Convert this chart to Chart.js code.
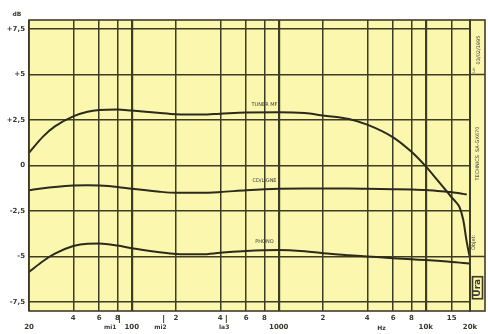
<!DOCTYPE html>
<html>
<head>
<meta charset="utf-8">
<script src="https://cdn.jsdelivr.net/npm/chart.js@4/dist/chart.umd.min.js"></script>
<style>
  body { margin: 0; background: #fff; }
  #wrap { width: 488px; height: 334px; }
</style>
</head>
<body>
<div id="wrap"><canvas id="graph" width="488" height="334"></canvas></div>
<script>
// frequency points (Hz) shared by the three curves
const freqs = [20, 25, 30, 40, 50, 60, 80, 100, 150, 200, 300, 400, 600, 1000, 1500, 2000, 3000, 4000, 6000, 8000, 10000, 12000, 14000, 15000, 16000, 17000, 18000, 19000, 20000]
// response in dB
const tuner = [0.7, 1.6, 2.15, 2.7, 2.95, 3.05, 3.08, 3.02, 2.9, 2.82, 2.8, 2.85, 2.92, 2.93, 2.88, 2.75, 2.56, 2.25, 1.55, 0.75, -0.05, -0.8, -1.45, -1.75, -2.0, -2.3, -3.0, -4.2, -5.1]
const cdLigne = [-1.36, -1.25, -1.18, -1.1, -1.08, -1.1, -1.18, -1.28, -1.43, -1.5, -1.5, -1.46, -1.36, -1.28, -1.27, -1.27, -1.27, -1.28, -1.3, -1.32, -1.35, -1.4, -1.44, -1.47, -1.5, -1.53, -1.56, -1.6, null]
const phono = [-5.85, -5.25, -4.85, -4.43, -4.3, -4.29, -4.4, -4.55, -4.75, -4.86, -4.88, -4.8, -4.7, -4.65, -4.72, -4.82, -4.93, -5.0, -5.1, -5.16, -5.2, -5.24, -5.28, -5.3, -5.32, -5.34, -5.36, -5.38, -5.4]
const curveNames = ['TUNER MF', 'CD/LIGNE', 'PHONO']

// axes
const xTicks = [20, 40, 60, 80, 100, 200, 400, 600, 800, 1000, 2000, 4000, 6000, 8000, 10000, 15000, 20000]
const xRow1 = ['', '4', '6', '8', '', '2', '4', '6', '8', '', '2', '4', '6', '8', '', '15', '']
const xRow2 = ['20', '', '', '', '100', '', '', '', '', '1000', '', '', '', '', '10k', '', '20k']
const yTicks = [-7.5, -5, -2.5, 0, 2.5, 5, 7.5]
const notes = ['mi1', 'mi2', 'la3']
const noteFreqs = [82.4, 164.8, 440]

const paper = '#fbf7ae'
const ink = '#3f3c24'
const textCol = '#3a3a30'

const toPoints = arr => freqs.map((f, i) => ({ x: f, y: arr[i] })).filter(p => p.y !== null)

const paperBg = {
  id: 'paperBg',
  beforeDraw(chart) {
    const { ctx, chartArea: a } = chart
    ctx.save()
    ctx.fillStyle = paper
    ctx.fillRect(a.left, a.top, a.right - a.left + 15, a.bottom - a.top)
    ctx.restore()
  }
}

const extras = {
  id: 'extras',
  afterDraw(chart) {
    const { ctx, chartArea: a, scales } = chart
    const x = scales.x, y = scales.y
    ctx.save()
    // frame + side strip
    ctx.strokeStyle = ink
    ctx.lineWidth = 1.6
    ctx.strokeRect(a.left, a.top, a.right - a.left, a.bottom - a.top)
    const sx = a.right, sw = 15
    ctx.strokeRect(sx, a.top, sw, a.bottom - a.top)
    ctx.beginPath()
    ctx.moveTo(sx, y.getPixelForValue(5)); ctx.lineTo(sx + sw, y.getPixelForValue(5))
    ctx.moveTo(sx, y.getPixelForValue(-5)); ctx.lineTo(sx + sw, y.getPixelForValue(-5))
    ctx.stroke()

    const rot = (txt, px, py, font) => {
      ctx.save()
      ctx.translate(px, py)
      ctx.rotate(-Math.PI / 2)
      ctx.font = font
      ctx.fillText(txt, 0, 0)
      ctx.restore()
    }
    ctx.fillStyle = textCol
    ctx.textAlign = 'center'
    ctx.textBaseline = 'middle'
    rot('Le:', sx + 4, a.top + 50, '4px "DejaVu Sans"')
    rot('03/02/1995', sx + 9, a.top + 30, '5px "DejaVu Sans"')
    rot('TECHNICS  SA-GX670', sx + 8, (y.getPixelForValue(5) + y.getPixelForValue(-5)) / 2 - 12, '5px "DejaVu Sans"')
    rot('Objet:', sx + 4, y.getPixelForValue(-5) - 14, '5px "DejaVu Sans"')
    // logo
    const ly = (y.getPixelForValue(-5) + a.bottom) / 2 + 4
    ctx.strokeRect(sx + 2.5, ly - 11, 10, 22)
    rot('Ura', sx + 8, ly, 'bold 9px "DejaVu Sans"')

    // curve names, just above each curve
    ctx.font = '5px "DejaVu Sans"'
    chart.data.datasets.forEach((ds, i) => {
      const meta = chart.getDatasetMeta(i)
      const idx = ds.data.findIndex(p => p.x === 1000)
      const pt = meta.data[idx]
      ctx.fillText(curveNames[i], x.getPixelForValue(800), pt.y - 8)
    })

    // dB and Hz captions
    ctx.font = 'bold 6px "DejaVu Sans"'
    ctx.fillText('dB', a.left - 12, a.top - 6)
    ctx.fillText('Hz', x.getPixelForValue(5000), a.bottom + 17)

    // note markers under the axis
    ctx.lineWidth = 1
    noteFreqs.forEach((f, i) => {
      const px = x.getPixelForValue(f)
      ctx.beginPath()
      ctx.moveTo(px, a.bottom + 4); ctx.lineTo(px, a.bottom + 12)
      ctx.stroke()
      ctx.textAlign = 'right'
      ctx.fillText(notes[i], px - (i === 0 ? 3 : -3), a.bottom + 16)
    })
    ctx.restore()
  }
}

const lineStyle = { borderColor: '#2b2a1c', borderWidth: 2, pointRadius: 0, fill: false, cubicInterpolationMode: 'monotone' }

new Chart(document.getElementById('graph'), {
  type: 'line',
  data: {
    datasets: [
      { label: curveNames[0], data: toPoints(tuner), ...lineStyle },
      { label: curveNames[1], data: toPoints(cdLigne), ...lineStyle },
      { label: curveNames[2], data: toPoints(phono), ...lineStyle }
    ]
  },
  options: {
    responsive: false,
    animation: false,
    layout: { padding: { top: 20, right: 18, left: 0, bottom: 0 } },
    plugins: { legend: { display: false }, tooltip: { enabled: false } },
    scales: {
      x: {
        type: 'logarithmic',
        min: 20,
        max: 20000,
        afterBuildTicks: axis => { axis.ticks = xTicks.map(v => ({ value: v })) },
        afterFit: axis => { axis.height = 23 },
        border: { display: false },
        grid: {
          drawTicks: false,
          color: ink,
          lineWidth: c => [100, 1000, 10000].includes(c.tick.value) ? 2.2 : 1.5
        },
        ticks: {
          autoSkip: false,
          maxRotation: 0,
          padding: 3,
          color: textCol,
          font: { family: 'DejaVu Sans', size: 7, weight: 'bold', lineHeight: 1.25 },
          callback: v => {
            const i = xTicks.indexOf(v)
            return [xRow1[i], xRow2[i]]
          }
        }
      },
      y: {
        min: -8,
        max: 8,
        afterBuildTicks: axis => { axis.ticks = yTicks.map(v => ({ value: v })) },
        afterFit: axis => { axis.width = 29 },
        border: { display: false },
        grid: { drawTicks: false, color: ink, lineWidth: 1.6 },
        ticks: {
          padding: 4,
          color: textCol,
          font: { family: 'DejaVu Sans', size: 7, weight: 'bold' },
          callback: v => (v > 0 ? '+' : '') + String(v).replace('.', ',')
        }
      }
    }
  },
  plugins: [paperBg, extras]
})
</script>
</body>
</html>
